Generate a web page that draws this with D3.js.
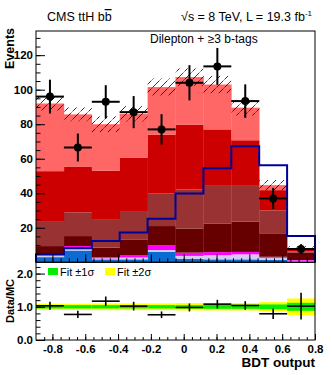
<!DOCTYPE html>
<html>
<head>
<meta charset="utf-8">
<script src="https://cdn.jsdelivr.net/npm/d3@7"></script>
<style>
  body { margin: 0; background: #fff; }
  svg { font-family: "Liberation Sans", Arial, Helvetica, sans-serif; }
</style>
</head>
<body>
<div id="chart"></div>
<script>
// bin edges of the BDT output histogram
const binEdges = [-0.9, -0.73, -0.56, -0.39, -0.22, -0.05, 0.12, 0.29, 0.46, 0.63, 0.8];

// stacked backgrounds, bottom to top (events per bin)
const bgBlue     = [3.0, 6.8, 1.7, 1.7, 6.1, 2.0, 1.7, 1.7, 1.4, 0.5];
const bgLavender = [0.8, 1.2, 0.6, 1.1, 1.0, 1.7, 2.5, 2.9, 1.2, 0.4];
const bgMagenta  = [0.7, 1.4, 0.6, 1.4, 2.9, 1.9, 1.7, 1.4, 0.6, 0.4];
const bgMaroon   = [4.9, 5.8, 5.6, 8.8, 11.0, 14.0, 16.4, 17.5, 13.6, 4.4];
const bgBrown    = [14.5, 13.7, 16.1, 16.7, 19.0, 22.6, 22.0, 20.8, 13.2, 0.6];
const bgRed      = [28.9, 26.6, 28.4, 31.0, 34.0, 37.6, 32.7, 26.4, 11.8, 1.4];
const bgLightRed = [39.2, 30.2, 27.0, 25.3, 27.5, 27.5, 26.0, 18.9, 2.9, 0.6];

// total background uncertainty (hatched)
const bgUnc = [4.0, 4.0, 4.5, 4.5, 5.0, 5.0, 5.0, 4.5, 3.0, 1.0];

// scaled signal (outline)
const signal = [4.6, 8.1, 12.3, 17.3, 25.2, 39.9, 54.5, 67.2, 56.2, 15.2];

// data
const dataY   = [96, 66.5, 93, 87, 77, 104, 113.5, 93.4, 37, 7.7];
const dataErr = [9.8, 8.1, 9.6, 9.3, 8.8, 10.2, 10.7, 9.7, 6.1, 2.8];

// ratio panel
const ratioY   = [1.03, 0.77, 1.17, 1.02, 0.76, 0.98, 1.08, 1.04, 0.79, 1.02];
const ratioErr = [0.12, 0.11, 0.14, 0.13, 0.10, 0.12, 0.13, 0.13, 0.16, 0.40];
const fit1s    = [0.05, 0.05, 0.05, 0.05, 0.05, 0.05, 0.06, 0.06, 0.07, 0.12];
const fit2s    = [0.09, 0.09, 0.10, 0.10, 0.10, 0.11, 0.11, 0.11, 0.14, 0.25];

const xTicks = [-0.8, -0.6, -0.4, -0.2, 0, 0.2, 0.4, 0.6, 0.8];
const yTicks = [20, 40, 60, 80, 100, 120];
const rTicks = [0, 1, 2];

const keys = ["blue", "lavender", "magenta", "maroon", "brown", "red", "lightred"];
const colors = {
  blue: "#0b6bd0", lavender: "#d4c8f4", magenta: "#ff00ff",
  maroon: "#660000", brown: "#993333", red: "#cc0000", lightred: "#ff6666"
};
const series = [bgBlue, bgLavender, bgMagenta, bgMaroon, bgBrown, bgRed, bgLightRed];

const bins = binEdges.slice(0, -1).map((lo, i) => {
  const b = { lo: lo, hi: binEdges[i + 1] };
  keys.forEach((k, j) => b[k] = series[j][i]);
  return b;
});

const W = 332, H = 375;
const x = d3.scaleLinear().domain([-0.9, 0.8]).range([36, 315]);
const y = d3.scaleLinear().domain([0, 134]).range([262.3, 31]);
const yr = d3.scaleLinear().domain([0, 2.34]).range([340, 262.3]);

const svg = d3.select("#chart").append("svg")
  .attr("width", W).attr("height", H);

// hatch pattern
svg.append("defs").append("pattern")
  .attr("id", "hatch").attr("patternUnits", "userSpaceOnUse")
  .attr("width", 8).attr("height", 8)
  .append("path").attr("d", "M0.5,7.5 L7.5,0.5")
  .attr("stroke", "#000").attr("stroke-width", 0.8);

// stacked backgrounds
const stack = d3.stack().keys(keys)(bins);
svg.append("g").selectAll("g")
  .data(stack).join("g")
  .attr("fill", d => colors[d.key])
  .selectAll("rect")
  .data(d => d).join("rect")
  .attr("x", d => x(d.data.lo))
  .attr("width", d => x(d.data.hi) - x(d.data.lo) + 0.3)
  .attr("y", d => y(d[1]))
  .attr("height", d => y(d[0]) - y(d[1]));

// uncertainty band
const totals = stack[stack.length - 1].map(d => d[1]);
svg.append("g").selectAll("rect")
  .data(bins).join("rect")
  .attr("x", d => x(d.lo))
  .attr("width", d => x(d.hi) - x(d.lo))
  .attr("y", (d, i) => y(totals[i] + bgUnc[i]))
  .attr("height", (d, i) => y(totals[i] - bgUnc[i]) - y(totals[i] + bgUnc[i]))
  .attr("fill", "url(#hatch)");

// signal outline
const sigPts = [[binEdges[0], 0]];
signal.forEach((v, i) => { sigPts.push([binEdges[i], v]); sigPts.push([binEdges[i + 1], v]); });
sigPts.push([binEdges[binEdges.length - 1], 0]);
svg.append("path")
  .attr("d", d3.line().x(d => x(d[0])).y(d => y(d[1]))(sigPts))
  .attr("fill", "none").attr("stroke", "#000099").attr("stroke-width", 2);

// data points
const dg = svg.append("g").attr("stroke", "#000").attr("stroke-width", 2);
bins.forEach((b, i) => {
  const cx = x((b.lo + b.hi) / 2);
  dg.append("line").attr("x1", x(b.lo)).attr("x2", x(b.hi))
    .attr("y1", y(dataY[i])).attr("y2", y(dataY[i]));
  dg.append("line").attr("x1", cx).attr("x2", cx)
    .attr("y1", y(dataY[i] - dataErr[i])).attr("y2", y(dataY[i] + dataErr[i]));
  dg.append("circle").attr("cx", cx).attr("cy", y(dataY[i])).attr("r", 3).attr("fill", "#000");
});

// ratio bands and points
const rg = svg.append("g");
bins.forEach((b, i) => {
  rg.append("rect").attr("x", x(b.lo)).attr("width", x(b.hi) - x(b.lo))
    .attr("y", yr(1 + fit2s[i])).attr("height", yr(1 - fit2s[i]) - yr(1 + fit2s[i]))
    .attr("fill", "#ffff00");
  rg.append("rect").attr("x", x(b.lo)).attr("width", x(b.hi) - x(b.lo))
    .attr("y", yr(1 + fit1s[i])).attr("height", yr(1 - fit1s[i]) - yr(1 + fit1s[i]))
    .attr("fill", "#00ee00");
});
const rp = svg.append("g").attr("stroke", "#000").attr("stroke-width", 1.6);
bins.forEach((b, i) => {
  const cx = x((b.lo + b.hi) / 2);
  rp.append("line").attr("x1", x(b.lo)).attr("x2", x(b.hi))
    .attr("y1", yr(ratioY[i])).attr("y2", yr(ratioY[i]));
  rp.append("line").attr("x1", cx).attr("x2", cx)
    .attr("y1", yr(ratioY[i] - ratioErr[i])).attr("y2", yr(ratioY[i] + ratioErr[i]));
});

// frames
svg.append("rect").attr("x", 36).attr("y", 31).attr("width", 279).attr("height", 231.3)
  .attr("fill", "none").attr("stroke", "#000").attr("stroke-width", 1);
svg.append("rect").attr("x", 36).attr("y", 262.3).attr("width", 279).attr("height", 77.7)
  .attr("fill", "none").attr("stroke", "#000").attr("stroke-width", 1);

function styleAxis(g) {
  g.select(".domain").remove();
  g.selectAll(".tick line").attr("stroke", "#000");
  g.selectAll("text").attr("fill", "#000").attr("font-weight", "bold")
    .attr("font-size", 11.5).attr("font-family", "Liberation Sans, Arial, sans-serif");
}

// main y axis
svg.append("g").attr("transform", "translate(36,0)")
  .call(d3.axisLeft(y).tickValues(yTicks).tickSizeInner(-9).tickSizeOuter(0).tickPadding(3))
  .call(styleAxis);
svg.append("g").attr("transform", "translate(36,0)")
  .call(d3.axisLeft(y).tickValues(d3.range(5, 134, 5)).tickSizeInner(-4.5).tickSizeOuter(0).tickFormat(""))
  .call(styleAxis);

// main x ticks (no labels)
svg.append("g").attr("transform", "translate(0,262.3)")
  .call(d3.axisBottom(x).tickValues(xTicks).tickSizeInner(-8).tickSizeOuter(0).tickFormat(""))
  .call(styleAxis);
svg.append("g").attr("transform", "translate(0,262.3)")
  .call(d3.axisBottom(x).tickValues(d3.range(-0.85, 0.8, 0.05)).tickSizeInner(-4).tickSizeOuter(0).tickFormat(""))
  .call(styleAxis);

// ratio axes
svg.append("g").attr("transform", "translate(36,0)")
  .call(d3.axisLeft(yr).tickValues(rTicks).tickSizeInner(-9).tickSizeOuter(0).tickPadding(3))
  .call(styleAxis);
svg.append("g").attr("transform", "translate(36,0)")
  .call(d3.axisLeft(yr).tickValues(d3.range(0.2, 2.34, 0.2)).tickSizeInner(-4.5).tickSizeOuter(0).tickFormat(""))
  .call(styleAxis);
svg.append("g").attr("transform", "translate(0,340)")
  .call(d3.axisBottom(x).tickValues(xTicks).tickSizeInner(-6).tickSizeOuter(0).tickPadding(5)
    .tickFormat(d => d === 0 ? "0" : d.toFixed(1)))
  .call(styleAxis);
svg.append("g").attr("transform", "translate(0,340)")
  .call(d3.axisBottom(x).tickValues(d3.range(-0.85, 0.8, 0.05)).tickSizeInner(-3).tickSizeOuter(0).tickFormat(""))
  .call(styleAxis);

// titles
svg.append("text").attr("transform", "translate(14,28) rotate(-90)")
  .attr("text-anchor", "end").attr("font-weight", "bold").attr("font-size", 12.5)
  .text("Events");
svg.append("text").attr("transform", "translate(14,301) rotate(-90)")
  .attr("text-anchor", "middle").attr("font-weight", "bold").attr("font-size", 11)
  .text("Data/MC");
svg.append("text").attr("x", 315).attr("y", 367)
  .attr("text-anchor", "end").attr("font-weight", "bold").attr("font-size", 13.5)
  .text("BDT output");

// header
const h1 = svg.append("text").attr("x", 47).attr("y", 21).attr("font-size", 12.5);
h1.append("tspan").text("CMS ttH b");
h1.append("tspan").attr("text-decoration", "overline").text("b");
const h2 = svg.append("text").attr("x", 312).attr("y", 21).attr("font-size", 12.5).attr("text-anchor", "end");
h2.append("tspan").text("\u221As = 8 TeV, L = 19.3 fb");
h2.append("tspan").attr("dy", -5).attr("font-size", 8).text("-1");

svg.append("text").attr("x", 150).attr("y", 43).attr("font-size", 12)
  .text("Dilepton + \u22653 b-tags");

// ratio legend
const leg = [["#00ee00", "Fit \u00B11\u03C3", 48], ["#ffff00", "Fit \u00B12\u03C3", 105]];
leg.forEach(l => {
  svg.append("rect").attr("x", l[2]).attr("y", 268).attr("width", 10).attr("height", 7).attr("fill", l[0]);
  svg.append("text").attr("x", l[2] + 12).attr("y", 275.5).attr("font-size", 11).text(l[1]);
});
</script>
</body>
</html>
